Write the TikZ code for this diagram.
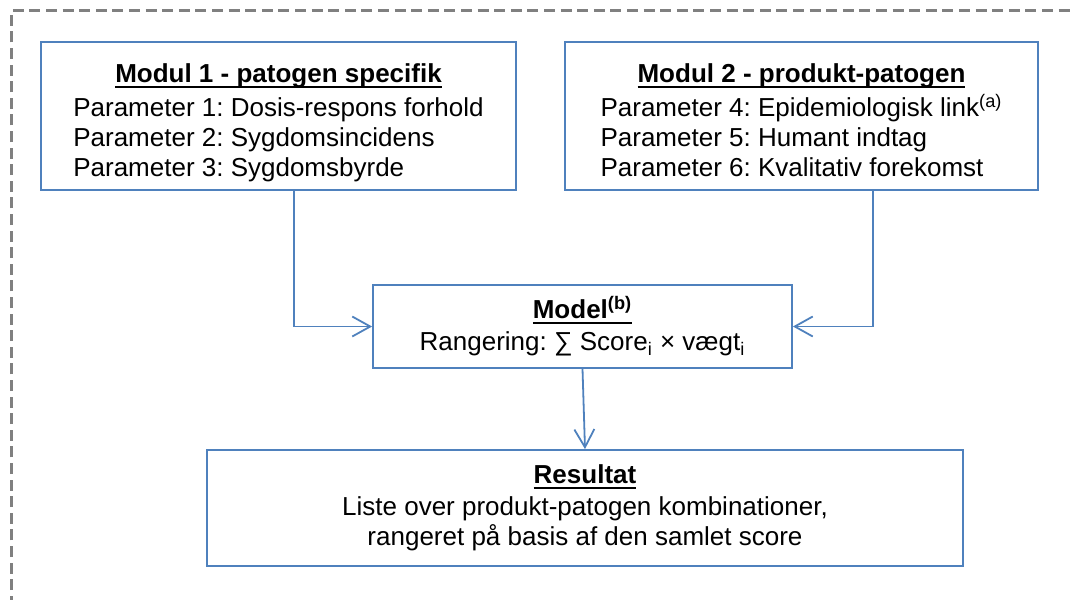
\documentclass[tikz,border=0pt]{standalone}
\usepackage{fontspec}
\setmainfont{Liberation Sans}
\usetikzlibrary{arrows.meta,positioning,calc}

\definecolor{boxblue}{HTML}{4F81BD}
\definecolor{framegray}{HTML}{808080}
% bold heading with a heavy underline
\newcommand{\hdr}[1]{\setbox0\hbox{\textbf{#1}}\leavevmode\rlap{\rule[-2.6pt]{\wd0}{1.1pt}}\box0}
\frenchspacing

\begin{document}
\begin{tikzpicture}[x=0.5pt, y=-0.5pt,
    block/.style={draw=boxblue, line width=0.9pt, align=center, inner sep=0pt, font=\fontsize{13}{15}\selectfont},
    arrow/.style={draw=boxblue, line width=0.9pt, -{Straight Barb[length=9pt,width=10pt]}}]

        \useasboundingbox (0,0) rectangle (1074,599);

        % frame
        \draw [framegray, line width=1.5pt, dash pattern=on 5.5pt off 2.8pt] (11,640) -- (11,11) -- (1110,11);

        % Modul 1
        \node [block, minimum width=237.5pt, minimum height=74pt] (modul1) at (278.5,116)
            {\rule{0pt}{18pt}\hdr{Modul 1 - patogen specifik}\\[2pt]
             \begin{tabular}[t]{@{}l@{}}Parameter 1: Dosis-respons forhold\\ Parameter 2: Sygdomsincidens\\ Parameter 3: Sygdomsbyrde\end{tabular}};

        % Modul 2
        \node [block, minimum width=236.5pt, minimum height=74pt] (modul2) at (801.5,116)
            {\rule{0pt}{18pt}\hdr{Modul 2 - produkt-patogen}\\[2pt]
             \begin{tabular}[t]{@{}l@{}}Parameter 4: Epidemiologisk link\textsuperscript{(a)}\\ Parameter 5: Humant indtag\\ Parameter 6: Kvalitativ forekomst\end{tabular}};

        % Model
        \node [block, minimum width=209.5pt, minimum height=41.5pt] (model) at (582.5,326.5)
            {\hdr{Model\textsuperscript{(b)}}\\[1pt] Rangering: ∑ Score\textsubscript{i} × vægt\textsubscript{i}};

        % Resultat
        \node [block, minimum width=378pt, minimum height=58pt] (result) at (585,508)
            {\hdr{Resultat}\\[1pt] Liste over produkt-patogen kombinationer,\\ rangeret på basis af den samlet score};

        \coordinate (m1_drop) at (294,0);
        \coordinate (m2_drop) at (873,0);

        % Arrows
        \draw [arrow] (modul1.south -| m1_drop) |- (model.west);
        \draw [arrow] (modul2.south -| m2_drop) |- (model.east);
        \draw [arrow] (model.south) -- (result.north);

    \end{tikzpicture}
\end{document}
